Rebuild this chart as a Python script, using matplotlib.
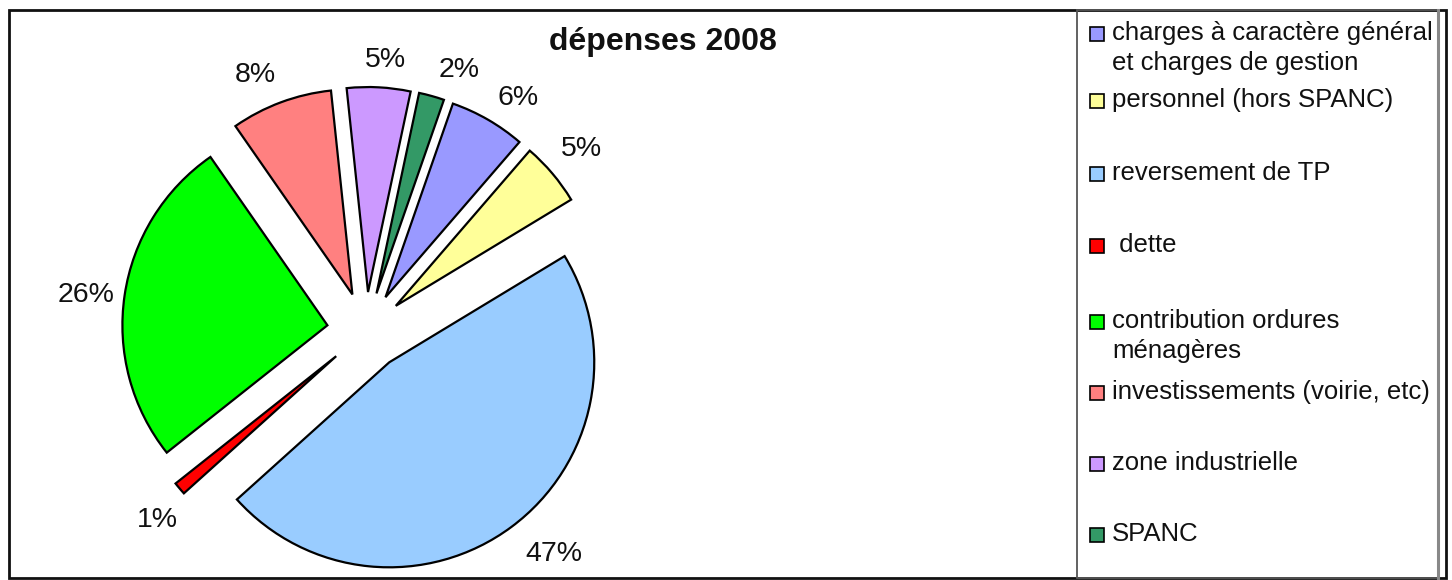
import matplotlib
matplotlib.use('Agg')
import matplotlib.pyplot as plt
from matplotlib.patches import Rectangle

plt.rcParams['font.family'] = ['Liberation Sans', 'DejaVu Sans']

categories = ["charges à caractère général\net charges de gestion",
              "personnel (hors SPANC)",
              "reversement de TP",
              " dette",
              "contribution ordures\nménagères",
              "investissements (voirie, etc)",
              "zone industrielle",
              "SPANC"]
values = [6, 5, 47, 1, 26, 8, 5, 2]
colors = ["#9999FF", "#FFFF99", "#99CCFF", "#FF0000",
          "#00FF00", "#FF8080", "#CC99FF", "#339966"]
title = "dépenses 2008"

# layout: small nudges (pixels, x right / y down) of the percentage labels
label_nudges = [(13, 8), (2, -2), (22, -1), (4, 9),
                (-4, 5), (-13, 5), (5, 7), (18, 8)]

W, H = 1452, 580
fig = plt.figure(figsize=(W / 100, H / 100), dpi=100)
ax = fig.add_axes([0, 0, 1, 1])

wedges, texts, autotexts = ax.pie(
    values, colors=colors, startangle=70.8, counterclock=False,
    radius=205, center=(366, H - 331), explode=[39] * len(values),
    autopct='%1.0f%%', pctdistance=1.17,
    wedgeprops=dict(edgecolor='black', linewidth=1.6),
    textprops=dict(fontsize=20.5, color='#111111'))
for t, (dx, dy) in zip(autotexts, label_nudges):
    t.set_ha('center')
    t.set_va('center')
    x, y = t.get_position()
    t.set_position((x + dx, y - dy))

ax.set_xlim(0, W)
ax.set_ylim(0, H)
ax.set_aspect('auto')
ax.axis('off')

# outer border and legend box (pixel coordinates, y up)
ax.add_patch(Rectangle((8.5, 2.5), 1437, 567.5, fill=False,
                       edgecolor='#111111', linewidth=2, clip_on=False))
ax.add_patch(Rectangle((1077, 2.5), 361, 567.5, fill=False,
                       edgecolor='#555555', linewidth=1.3, clip_on=False))
ax.plot([1437.5, 1437.5], [2.5, 570], color='#888888', linewidth=2.2)

# title
ax.text(663, H - 42, title, ha='center', va='center',
        fontsize=23, fontweight='bold', color='#111111')

# legend
legend_rows_y = [48, 100, 173, 245, 336, 392, 463, 534]
for lab, col, yc in zip(categories, colors, legend_rows_y):
    nlines = lab.count('\n') + 1
    first_y = yc - (nlines - 1) * 15
    ax.add_patch(Rectangle((1089.5, H - first_y - 7.5), 14, 14,
                           facecolor=col, edgecolor='black', linewidth=1.2))
    ax.text(1112, H - yc, lab, ha='left', va='center', fontsize=18.5,
            linespacing=1.32, color='#111111')

fig.savefig('out.png', dpi=100)
